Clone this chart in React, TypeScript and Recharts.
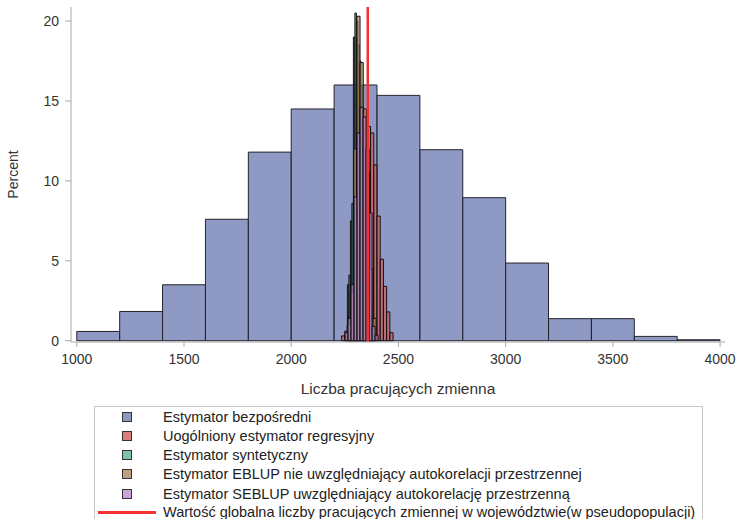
import { ComposedChart, XAxis, YAxis, ReferenceArea, ReferenceLine, Label } from 'recharts'

// main histogram (Estymator bezpośredni), bins of 200
const mainBinStarts = [1000, 1200, 1400, 1600, 1800, 2000, 2200, 2400, 2600, 2800, 3000, 3200, 3400, 3600, 3800]
const bezposredni = [0.58, 1.83, 3.5, 7.6, 11.8, 14.5, 16.0, 15.35, 11.95, 8.95, 4.86, 1.38, 1.38, 0.27, 0.06]

// narrow estimators, each with its own bins
const uogolnionyStarts = [2235, 2250, 2265, 2280, 2295, 2310, 2325, 2340, 2355, 2370, 2385, 2400, 2415, 2430, 2445, 2460]
const uogolniony = [0.3, 0.6, 1.5, 3.5, 6.0, 9.0, 11.5, 13.0, 13.4, 13.0, 11.0, 7.8, 5.1, 3.4, 1.8, 0.5]

const syntetycznyStarts = [2262, 2269, 2276, 2283, 2290, 2297, 2304, 2311, 2318, 2325, 2332, 2339, 2346, 2353, 2360, 2367, 2374, 2381]
const syntetyczny = [3.5, 4.1, 7.5, 8.6, 19.0, 20.5, 20.0, 18.5, 17.5, 16.0, 14.5, 12.0, 9.0, 6.5, 4.0, 2.5, 1.5, 0.6]

const eblupStarts = [2261, 2276, 2291, 2306, 2321, 2336, 2351, 2366, 2381]
const eblup = [1.0, 3.0, 12.0, 20.3, 17.4, 14.5, 10.5, 4.5, 1.4]

const seblupStarts = [2251, 2265, 2279, 2293, 2307, 2321, 2335, 2349, 2363, 2377, 2391]
const seblup = [0.5, 1.4, 3.5, 9.0, 13.0, 14.6, 14.0, 12.0, 8.0, 0.9, 0.35]

const wartoscGlobalna = 2357

const xTicks = [1000, 1500, 2000, 2500, 3000, 3500, 4000]
const yTicks = [0, 5, 10, 15, 20]

const series = [
  { name: 'Estymator bezpośredni', starts: mainBinStarts, width: 200, values: bezposredni, fill: '#6f7eb3', swatch: '#8c97c6' },
  { name: 'Uogólniony estymator regresyjny', starts: uogolnionyStarts, width: 15, values: uogolniony, fill: '#d05b5b', swatch: '#dc7c7a' },
  { name: 'Estymator syntetyczny', starts: syntetycznyStarts, width: 7, values: syntetyczny, fill: '#4f8f88', swatch: '#80bfb3' },
  { name: 'Estymator EBLUP nie uwzględniający autokorelacji przestrzennej', starts: eblupStarts, width: 15, values: eblup, fill: '#a9865b', swatch: '#bba07e' },
  { name: 'Estymator SEBLUP uwzględniający autokorelację przestrzenną', starts: seblupStarts, width: 14, values: seblup, fill: '#b689cd', swatch: '#c8a4db' },
]

const lineName = 'Wartość globalna liczby pracujących zmiennej w województwie(w pseudopopulacji)'

const font = '"Liberation Sans", Arial, sans-serif'
const frame = '#a8a8a8'
const tick = { fill: '#333', fontSize: 14, fontFamily: font }

export default function App() {
  return (
    <div style={{ position: 'absolute', left: 0, top: 0, width: 739, height: 519, background: '#fff', overflow: 'hidden', fontFamily: font }}>
      <ComposedChart width={739} height={400} data={[]} margin={{ top: 7, right: 14, bottom: 0, left: 0 }}>
        <XAxis
          type="number"
          dataKey="x"
          domain={[973, 4023]}
          ticks={xTicks}
          allowDataOverflow
          height={58}
          tick={tick}
          tickSize={5}
          tickMargin={7}
          stroke={frame}
        >
          <Label value="Liczba pracujących zmienna" position="insideBottom" offset={6} style={{ fill: '#333', fontSize: 15.5, fontFamily: font }} />
        </XAxis>
        <YAxis
          type="number"
          domain={[-0.08, 20.88]}
          ticks={yTicks}
          allowDataOverflow
          width={71}
          tick={tick}
          tickSize={6}
          tickMargin={6}
          stroke={frame}
        >
          <Label value="Percent" angle={-90} position="insideLeft" offset={13} style={{ textAnchor: 'middle', fill: '#333', fontSize: 14, fontFamily: font }} />
        </YAxis>
        <XAxis xAxisId="top" orientation="top" type="number" domain={[973, 4023]} height={0} tick={false} tickLine={false} stroke={frame} />
        <YAxis yAxisId="right" orientation="right" type="number" domain={[-0.08, 20.88]} width={0} tick={false} tickLine={false} stroke={frame} />

        {series.map((s, si) =>
          s.values.map((v, i) => (
            <ReferenceArea
              key={s.name + i}
              x1={s.starts[i]}
              x2={s.starts[i] + s.width}
              y1={0}
              y2={v}
              fill={s.fill}
              fillOpacity={si === 0 ? 0.78 : 0.7}
              stroke={si === 0 ? '#23232e' : '#111'}
              strokeWidth={1}
            />
          ))
        )}

        <ReferenceLine x={wartoscGlobalna} stroke="#f43232" strokeWidth={2.5} />
      </ComposedChart>

      <div style={{ position: 'absolute', left: 94, top: 406, width: 609, height: 130, border: '1px solid #c8c8c8', boxSizing: 'border-box' }}>
        {series.map((s, i) => (
          <div key={s.name} style={{ position: 'absolute', left: 0, top: 9.5 + i * 19.3 - 9, height: 18, width: '100%' }}>
            <div style={{ position: 'absolute', left: 27, top: 4, width: 10, height: 10, boxSizing: 'border-box', border: '1px solid #333', background: s.swatch }} />
            <span style={{ position: 'absolute', left: 68, top: 0, fontSize: 14.5, lineHeight: '18px', color: '#222', whiteSpace: 'nowrap' }}>{s.name}</span>
          </div>
        ))}
        <div style={{ position: 'absolute', left: 0, top: 9.5 + 5 * 19.3 - 10, height: 18, width: '100%' }}>
          <div style={{ position: 'absolute', left: 3, top: 8, width: 58, height: 3, background: '#f43232' }} />
          <span style={{ position: 'absolute', left: 68, top: 0, fontSize: 14.5, lineHeight: '18px', color: '#222', whiteSpace: 'nowrap' }}>{lineName}</span>
        </div>
      </div>
    </div>
  )
}
